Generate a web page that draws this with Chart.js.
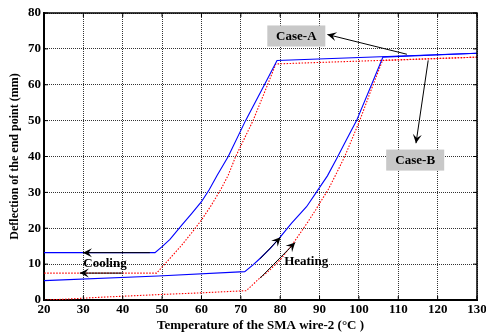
<!DOCTYPE html>
<html>
<head>
<meta charset="utf-8">
<script src="https://cdn.jsdelivr.net/npm/chart.js@4/dist/chart.umd.min.js"></script>
<style>
html, body { margin: 0; padding: 0; background: #fff; }
</style>
</head>
<body>
<canvas id="chart" width="486" height="334"></canvas>
<script>
// Case-A (blue, solid) and Case-B (red, dotted): heating and cooling branches
const caseAHeatX = [20, 49, 71, 73.1, 74.8, 77.5, 80, 82.9, 86.7, 89.3, 92, 94.3, 96.8, 99.4, 103.2, 106.1, 130];
const caseAHeatY = [5.4, 6.7, 7.9, 9.8, 11.5, 14.4, 17.5, 21.4, 26.0, 30.2, 34.6, 39.3, 44.6, 50, 60, 67.7, 68.8];
const caseACoolX = [130, 79.2, 76, 71.2, 66.8, 64, 62, 60, 57.5, 55, 52, 50, 48.2, 20];
const caseACoolY = [68.8, 66.75, 60, 50, 40, 34.8, 30.8, 27.4, 24.1, 20.9, 16.9, 14.9, 13.2, 13.2];

const caseBHeatX = [20, 25, 35, 49, 60, 71.4, 74.8, 76.9, 80, 83.3, 85, 87, 89, 90.5, 92.2, 94.3, 96.4, 100.2, 103.6, 106, 130];
const caseBHeatY = [0, 0.2, 0.8, 1.5, 2.0, 2.6, 6.1, 7.9, 11.2, 15.8, 18.5, 21.7, 25.1, 27.8, 30.8, 35.3, 40, 50, 60, 66.75, 67.7];
const caseBCoolX = [130, 78.9, 76.8, 73.1, 68.7, 66.8, 65, 62.5, 60, 57.5, 55, 52.5, 50, 48.6, 20];
const caseBCoolY = [67.7, 65.8, 60, 50, 40, 34.8, 31, 26.4, 22.3, 18.7, 15.3, 12.2, 9.2, 7.5, 7.5];

const FONT = '"Times New Roman", "Liberation Serif", serif';

function pts(xs, ys) {
    return xs.map((x, i) => ({x: x, y: ys[i]}));
}

function line(xs, ys, color, dash) {
    return {
        data: pts(xs, ys),
        showLine: true,
        borderColor: color,
        borderWidth: 1.1,
        borderDash: dash,
        pointRadius: 0,
        tension: 0
    };
}

// draw an arrow with a barbed head at the end point
function arrow(ctx, x0, y0, x1, y1) {
    const a = Math.atan2(y1 - y0, x1 - x0);
    ctx.beginPath();
    ctx.moveTo(x0, y0);
    ctx.lineTo(x1, y1);
    ctx.stroke();
    const L = 9, W = 4.5;
    ctx.save();
    ctx.translate(x1, y1);
    ctx.rotate(a);
    ctx.beginPath();
    ctx.moveTo(0, 0);
    ctx.lineTo(-L, -W);
    ctx.lineTo(-L * 0.6, 0);
    ctx.lineTo(-L, W);
    ctx.closePath();
    ctx.fill();
    ctx.restore();
}

const notes = {
    id: 'notes',
    afterDraw(chart) {
        const ctx = chart.ctx;
        const sx = chart.scales.x, sy = chart.scales.y;
        const X = v => sx.getPixelForValue(v);
        const Y = v => sy.getPixelForValue(v);
        const area = chart.chartArea;

        ctx.save();
        // top and right frame
        ctx.strokeStyle = '#000';
        ctx.lineWidth = 1.5;
        ctx.beginPath();
        ctx.moveTo(area.left, area.top);
        ctx.lineTo(area.right, area.top);
        ctx.lineTo(area.right, area.bottom);
        ctx.stroke();

        // inward tick marks
        ctx.lineWidth = 1;
        sx.ticks.forEach(t => {
            const p = X(t.value);
            ctx.beginPath();
            ctx.moveTo(p, area.bottom); ctx.lineTo(p, area.bottom - 4);
            ctx.moveTo(p, area.top); ctx.lineTo(p, area.top + 4);
            ctx.stroke();
        });
        sy.ticks.forEach(t => {
            const p = Y(t.value);
            ctx.beginPath();
            ctx.moveTo(area.left, p); ctx.lineTo(area.left + 4, p);
            ctx.moveTo(area.right, p); ctx.lineTo(area.right - 4, p);
            ctx.stroke();
        });

        ctx.fillStyle = '#000';
        ctx.strokeStyle = '#000';
        ctx.lineWidth = 1;

        // Case labels
        ctx.font = 'bold 13px ' + FONT;
        ctx.textAlign = 'center';
        ctx.textBaseline = 'middle';
        [['Case-A', 84.1, 73.6], ['Case-B', 114.3, 39.0]].forEach(([t, x, y]) => {
            ctx.fillStyle = '#c8c8c8';
            ctx.fillRect(X(x) - 29, Y(y) - 10.5, 58, 21);
            ctx.fillStyle = '#000';
            ctx.fillText(t, X(x), Y(y) + 1);
        });
        arrow(ctx, X(112.2), Y(68.5), X(92.0), Y(74.0));
        arrow(ctx, X(117.6), Y(66.8), X(114.5), Y(43.7));

        // Cooling arrows
        arrow(ctx, X(46.9), Y(13.2), X(29.9), Y(13.2));
        arrow(ctx, X(40.1), Y(7.5), X(29.1), Y(7.5));
        ctx.fillText('Cooling', X(35.5), Y(10.1));

        // Heating arrows
        arrow(ctx, X(74.9), Y(11.5), X(80.1), Y(17.5));
        arrow(ctx, X(74.9), Y(6.1), X(83.8), Y(16.0));
        ctx.fillText('Heating', X(86.6), Y(10.6));
        ctx.restore();
    }
};

new Chart(document.getElementById('chart'), {
    type: 'scatter',
    data: {
        datasets: [
            line(caseAHeatX, caseAHeatY, '#0000ff', []),
            line(caseACoolX, caseACoolY, '#0000ff', []),
            line(caseBHeatX, caseBHeatY, '#ff0000', [1.5, 1.5]),
            line(caseBCoolX, caseBCoolY, '#ff0000', [1.5, 1.5])
        ]
    },
    options: {
        responsive: false,
        animation: false,
        layout: {
            padding: {top: 13, right: 9, left: 0, bottom: 0}
        },
        plugins: {
            legend: {display: false},
            tooltip: {enabled: false}
        },
        scales: {
            x: {
                type: 'linear',
                min: 20,
                max: 130,
                ticks: {
                    stepSize: 10,
                    color: '#000',
                    padding: 2,
                    maxRotation: 0,
                    font: {family: FONT, size: 13, weight: 'bold'}
                },
                grid: {color: '#333', drawTicks: false},
                border: {color: '#000', width: 2, dash: [1, 1]},
                title: {
                    display: true,
                    text: 'Temperature of the SMA wire-2 (°C )',
                    color: '#000',
                    font: {family: FONT, size: 13, weight: 'bold'},
                    padding: {top: 0, bottom: 1}
                },
                afterFit(s) {
                    s.height = 34;
                    s.paddingLeft = 0;
                    s.paddingRight = 0;
                }
            },
            y: {
                type: 'linear',
                min: 0,
                max: 80,
                ticks: {
                    stepSize: 10,
                    color: '#000',
                    padding: 3,
                    font: {family: FONT, size: 13, weight: 'bold'}
                },
                grid: {color: '#333', drawTicks: false},
                border: {color: '#000', width: 2, dash: [1, 1]},
                title: {
                    display: true,
                    text: 'Deflection of the end point (mm)',
                    color: '#000',
                    font: {family: FONT, size: 12, weight: 'bold'},
                    padding: {top: 8, bottom: 0}
                },
                afterFit(s) {
                    s.width = 44;
                    s.paddingTop = 0;
                    s.paddingBottom = 0;
                }
            }
        }
    },
    plugins: [notes]
});
</script>
</body>
</html>
